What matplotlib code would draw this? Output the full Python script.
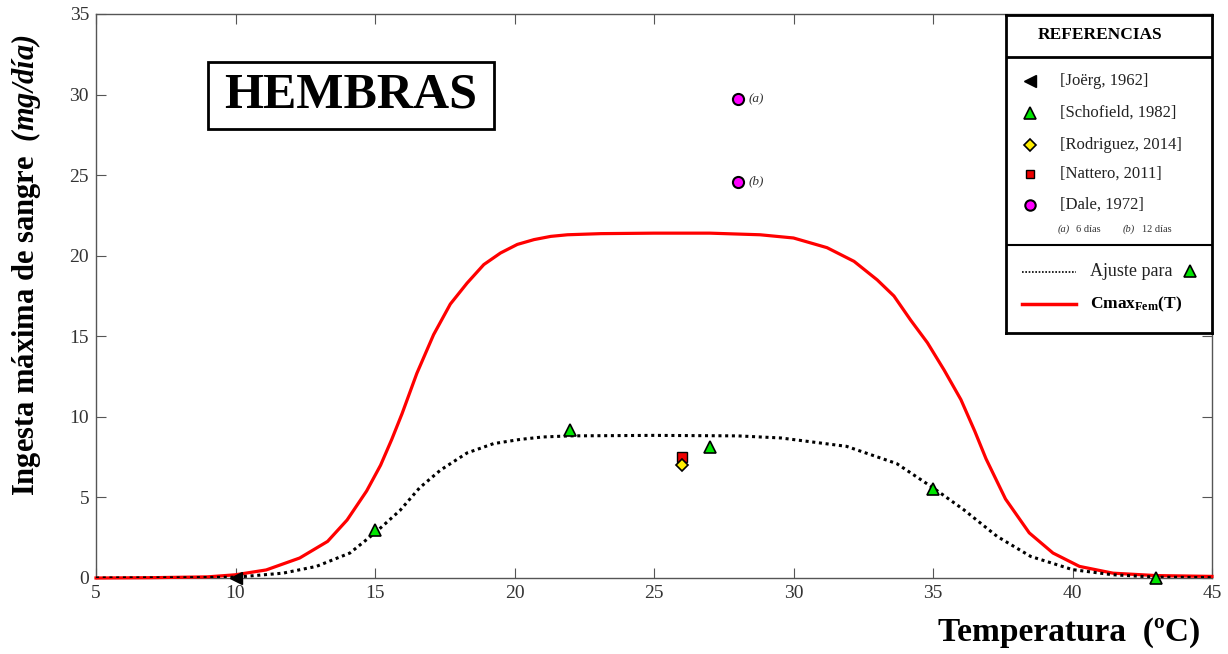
import numpy as np
import matplotlib
matplotlib.use('Agg')
import matplotlib.pyplot as plt
from matplotlib.patches import Rectangle

plt.rcParams['font.family'] = ['Liberation Serif', 'DejaVu Serif']
plt.rcParams['mathtext.fontset'] = 'custom'
plt.rcParams['mathtext.rm'] = 'Liberation Serif'
plt.rcParams['mathtext.bf'] = 'Liberation Serif:bold'
plt.rcParams['mathtext.it'] = 'Liberation Serif:italic'
plt.rcParams['mathtext.bfit'] = 'Liberation Serif:italic:bold'

# curve Cmax hembras
t_cmax = [5, 7, 9, 10, 11.1, 12.3, 13.3, 14.0, 14.7, 15.2, 15.6, 15.97, 16.5, 17.1,
          17.7, 18.3, 18.9, 19.5, 20.1, 20.7, 21.3, 21.9, 23.1, 25, 27, 28.8, 30.0,
          31.2, 32.17, 33.0, 33.6, 34.2, 34.8, 35.4, 36.0, 36.5, 36.9, 37.6, 38.45,
          39.3, 40.25, 41.45, 43, 45]
c_cmax = [0.0, 0.02, 0.07, 0.2, 0.5, 1.24, 2.27, 3.6, 5.4, 7.0, 8.6, 10.2, 12.7, 15.1,
          17.0, 18.3, 19.45, 20.17, 20.7, 21.0, 21.2, 21.3, 21.37, 21.4, 21.4, 21.3, 21.1,
          20.5, 19.65, 18.5, 17.5, 16.0, 14.6, 12.9, 11.07, 9.1, 7.4, 4.9, 2.8,
          1.55, 0.72, 0.3, 0.15, 0.1]

# ajuste para Schofield
t_fit = [5, 8, 10, 11.7, 12.9, 14.1, 15, 15.9, 16.6, 17.35, 18.3, 19.25, 20.2, 21, 22,
         25, 28, 29.55, 31.9, 33.7, 35, 36.1, 37.3, 38.5, 40, 41.45, 43, 45]
c_fit = [0.0, 0.01, 0.05, 0.3, 0.72, 1.55, 2.8, 4.2, 5.6, 6.7, 7.76, 8.34, 8.6, 8.75, 8.82,
         8.85, 8.82, 8.69, 8.17, 7.1, 5.6, 4.24, 2.58, 1.34, 0.52, 0.2, 0.05, 0.02]

# referencias
t_joerg = [10]
c_joerg = [0]
t_schof = [15, 22, 27, 35, 43]
c_schof = [3.0, 9.2, 8.1, 5.5, 0]
t_rodri = [26]
c_rodri = [7.0]
t_natt = [26]
c_natt = [7.5]
t_dale = [28, 28]
c_dale = [29.7, 24.6]
dale_lbl = ['(a)', '(b)']

W, H = 1228, 654
fig = plt.figure(figsize=(W / 100, H / 100), dpi=100)
ax = fig.add_axes([96 / W, 1 - 578 / H, (1212 - 96) / W, (578 - 14) / H])

ax.plot(t_cmax, c_cmax, color='#ff0000', lw=2.3, zorder=3, clip_on=False)
ax.plot(t_fit, c_fit, color='black', lw=2.2, ls=(0, (1, 1.2)), zorder=4)

ax.plot(t_joerg, c_joerg, '<', ms=9, color='black', zorder=5, clip_on=False)
ax.plot(t_schof, c_schof, '^', ms=9, mfc='#00e600', mec='black', mew=1.2, zorder=5, clip_on=False)
ax.plot(t_natt, c_natt, 's', ms=6.5, mfc='#ee0000', mec='black', mew=1.0, zorder=5)
ax.plot(t_rodri, c_rodri, 'D', ms=6.5, mfc='#ffee00', mec='black', mew=1.2, zorder=6)
ax.plot(t_dale, c_dale, 'o', ms=8, mfc='#ff00ff', mec='black', mew=1.5, zorder=5)
for t, c, l in zip(t_dale, c_dale, dale_lbl):
    ax.annotate(l, (t, c), xytext=(8, 0), textcoords='offset points', va='center',
                fontsize=9.5, style='italic', color='#333333')

ax.set_xlim(5, 45)
ax.set_ylim(0, 35)
ax.set_xticks(np.arange(5, 46, 5))
ax.set_yticks(np.arange(0, 36, 5))
ax.tick_params(direction='in', top=True, right=True, length=7, width=0.8,
               colors='#555555', labelcolor='#333333', labelsize=14, pad=5)
for s in ax.spines.values():
    s.set_color('#555555')
    s.set_linewidth(1.0)

fig.text(1200 / W, 1 - 633 / H, 'Temperatura  (ºC)', ha='right', va='center',
         fontsize=24, fontweight='bold')
fig.text(26 / W, 1 - 265 / H, r'Ingesta máxima de sangre  $\mathbfit{(mg/día)}$',
         rotation=90, ha='center', va='center', fontsize=22, fontweight='bold')

# HEMBRAS box
fig.patches.append(Rectangle((208 / W, 1 - 129 / H), 286 / W, 67 / H, transform=fig.transFigure,
                             fill=True, fc='white', ec='black', lw=2, zorder=10))
fig.text(351 / W, 1 - 95 / H, 'HEMBRAS', ha='center', va='center', fontsize=36,
         fontweight='bold', zorder=11)

# legend box
lax = fig.add_axes([1006 / W, 1 - 333 / H, 206 / W, (333 - 15) / H])
lax.set_xlim(1006, 1212)
lax.set_ylim(333, 15)
lax.set_xticks([])
lax.set_yticks([])
for s in lax.spines.values():
    s.set_color('black')
    s.set_linewidth(2)
lax.axhline(57, color='black', lw=2)
lax.axhline(245, color='black', lw=1.5)
lax.text(1100, 35, 'REFERENCIAS', ha='center', va='center', fontsize=12.5, fontweight='bold')

ref_names = ['[Joërg, 1962]', '[Schofield, 1982]', '[Rodriguez, 2014]', '[Nattero, 2011]', '[Dale, 1972]']
ref_rows = [81, 113, 145, 174, 205]
lax.plot(1030, ref_rows[0], '<', ms=9, color='black')
lax.plot(1030, ref_rows[1], '^', ms=8, mfc='#00e600', mec='black', mew=1.2)
lax.plot(1030, ref_rows[2], 'D', ms=6, mfc='#ffee00', mec='black', mew=1.2)
lax.plot(1030, ref_rows[3], 's', ms=6, mfc='#ee0000', mec='black', mew=1.0)
lax.plot(1030, ref_rows[4], 'o', ms=7.5, mfc='#ff00ff', mec='black', mew=1.5)
for name, r in zip(ref_names, ref_rows):
    lax.text(1060, r, name, va='center', fontsize=12, color='#222222')

lax.text(1058, 229, '(a)', va='center', fontsize=7.5, style='italic', color='#333333')
lax.text(1076, 229, '6 días', va='center', fontsize=7.5, color='#333333')
lax.text(1123, 229, '(b)', va='center', fontsize=7.5, style='italic', color='#333333')
lax.text(1142, 229, '12 días', va='center', fontsize=7.5, color='#333333')

lax.plot([1022, 1076], [272, 272], color='black', lw=1.2, ls=(0, (1, 1)))
lax.text(1090, 272, 'Ajuste para', va='center', fontsize=13, color='#222222')
lax.plot(1190, 271, '^', ms=8, mfc='#00e600', mec='black', mew=1.2)
lax.plot([1022, 1076], [304, 304], color='#ff0000', lw=2.5)
lax.text(1090, 304, r'$\mathbf{Cmax_{Fem}(T)}$', va='center', fontsize=12.5)

fig.savefig('out.png', dpi=100)
